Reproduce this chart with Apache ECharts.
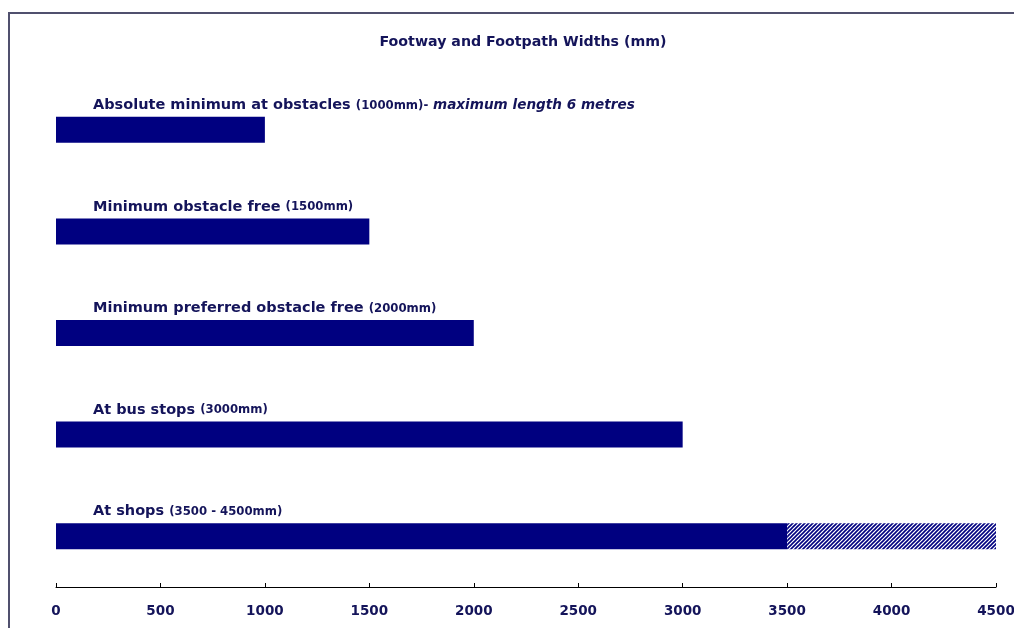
<!DOCTYPE html>
<html>
<head>
<meta charset="utf-8">
<script src="https://cdn.jsdelivr.net/npm/echarts@6/dist/echarts.min.js"></script>
<style>
  html, body { margin: 0; padding: 0; background: #ffffff; }
  #chart { width: 1014px; height: 628px; }
</style>
</head>
<body>
<div id="chart"></div>
<script>
// Footway widths, in millimetres
var categories = ['Absolute minimum at obstacles', 'Minimum obstacle free', 'Minimum preferred obstacle free', 'At bus stops', 'At shops'];
var rangeText = ['(1000mm)-', '(1500mm)', '(2000mm)', '(3000mm)', '(3500 - 4500mm)'];
var noteText = ['maximum length 6 metres', '', '', '', ''];
var minWidth = [1000, 1500, 2000, 3000, 3500];
var extraWidth = [0, 0, 0, 0, 1000];
var xTicks = [0, 500, 1000, 1500, 2000, 2500, 3000, 3500, 4000, 4500];

var NAVY = '#000080';
var TEXT = '#14145a';
var FONT = '"DejaVu Sans", Verdana, sans-serif';
var NARROW = '"DejaVu Sans Condensed", "Liberation Sans", Arial, sans-serif';

// diagonal hatching for the upper part of the range
function hatchPattern() {
  var c = document.createElement('canvas');
  c.width = 4; c.height = 4;
  var g = c.getContext('2d');
  g.fillStyle = '#ffffff';
  g.fillRect(0, 0, 4, 4);
  g.strokeStyle = NAVY;
  g.lineWidth = 1.6;
  g.beginPath();
  g.moveTo(-1, 5); g.lineTo(5, -1);
  g.moveTo(-1, 1); g.lineTo(1, -1);
  g.moveTo(3, 5); g.lineTo(5, 3);
  g.stroke();
  return c;
}

var chart = echarts.init(document.getElementById('chart'), null, { renderer: 'canvas' });

chart.setOption({
  backgroundColor: '#ffffff',
  animation: false,
  title: {
    text: 'Footway and Footpath Widths (mm)',
    left: 518,
    top: 30,
    textAlign: 'center',
    textStyle: { fontFamily: FONT, fontSize: 14.2, fontWeight: 'bold', color: TEXT }
  },
  graphic: [{
    type: 'rect',
    shape: { x: 9, y: 13, width: 1100, height: 700 },
    style: { fill: null, stroke: '#50506e', lineWidth: 2 },
    silent: true
  }],
  grid: { left: 56, right: 18, top: 79, bottom: 41, outerBoundsMode: 'none' },
  xAxis: {
    type: 'value',
    min: 0,
    max: 4500,
    interval: 500,
    splitLine: { show: false },
    axisLine: { show: true, lineStyle: { color: '#000000', width: 1 } },
    axisTick: { show: true, inside: true, length: 4, lineStyle: { color: '#000000' } },
    axisLabel: {
      margin: 17,
      fontFamily: FONT, fontSize: 13.5, fontWeight: 'bold', color: TEXT,
      formatter: function (v) { return xTicks.indexOf(v) >= 0 ? String(v) : ''; }
    }
  },
  yAxis: {
    type: 'category',
    inverse: true,
    data: categories,
    show: false
  },
  series: [{
    name: 'Minimum',
    type: 'bar',
    stack: 'w',
    barWidth: 26,
    data: minWidth,
    itemStyle: { color: NAVY },
    label: {
      show: true,
      position: [37, -19],
      formatter: function (p) {
        var i = p.dataIndex;
        var s = '{m|' + categories[i] + ' }{r|' + rangeText[i] + '}';
        if (noteText[i]) s += '{n| ' + noteText[i] + '}';
        return s;
      },
      rich: {
        m: { fontFamily: FONT, fontSize: 14.5, fontWeight: 'bold', color: TEXT },
        r: { fontFamily: NARROW, fontSize: 13, fontWeight: 'bold', color: TEXT },
        n: { fontFamily: FONT, fontSize: 13.6, fontWeight: 'bold', fontStyle: 'italic', color: TEXT }
      }
    }
  }, {
    name: 'Upper range',
    type: 'bar',
    stack: 'w',
    barWidth: 26,
    data: extraWidth,
    itemStyle: { color: { image: hatchPattern(), repeat: 'repeat' } }
  }]
});
</script>
</body>
</html>
